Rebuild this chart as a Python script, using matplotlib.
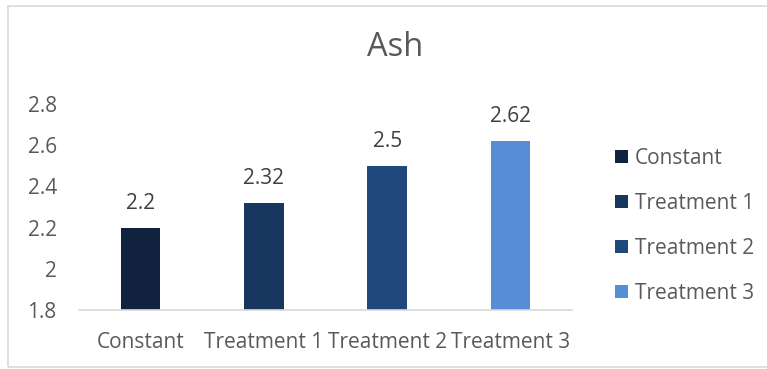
import matplotlib
matplotlib.use("Agg")
import matplotlib.pyplot as plt
from matplotlib.patches import Rectangle

categories = ["Constant", "Treatment 1", "Treatment 2", "Treatment 3"]
values = [2.2, 2.32, 2.5, 2.62]
colors = ["#11223f", "#17375e", "#1f497d", "#558ed5"]
yticks = [1.8, 2.0, 2.2, 2.4, 2.6, 2.8]
ytick_labels = ["1.8", "2", "2.2", "2.4", "2.6", "2.8"]

W, H = 767, 369
plt.rcParams["font.family"] = ["Open Sans", "DejaVu Sans"]
text_color = "#595959"

fig = plt.figure(figsize=(W / 100, H / 100), dpi=100)
fig.patch.set_facecolor("white")

# chart-area frame
fig.add_artist(Rectangle((8 / W, 1 - 367 / H), (W + 5 - 8) / W, (367 - 6) / H,
                         transform=fig.transFigure, fill=False,
                         edgecolor="#d9d9d9", linewidth=1.2))

ax = fig.add_axes([79 / W, (H - 310) / H, (572 - 79) / W, (310 - 104) / H])
x = range(len(categories))
bars = ax.bar(x, values, width=0.32, color=colors, label=categories, bottom=0)
ax.set_ylim(1.8, 2.8)
ax.set_xlim(-0.5, len(categories) - 0.5)
ax.set_yticks(yticks)
ax.set_yticklabels(ytick_labels)
ax.set_xticks(list(x))
ax.set_xticklabels(categories)
ax.tick_params(axis="both", length=0, labelsize=15, colors=text_color)
ax.tick_params(axis="y", pad=16)
ax.tick_params(axis="x", pad=16)
for s in ["left", "right", "top"]:
    ax.spines[s].set_visible(False)
ax.spines["bottom"].set_color("#d9d9d9")
ax.spines["bottom"].set_linewidth(1.2)

for b, v in zip(bars, values):
    ax.annotate(f"{v:g}", (b.get_x() + b.get_width() / 2, v),
                xytext=(0, 10), textcoords="offset points",
                ha="center", va="bottom", fontsize=15, color="#404040")

fig.text(395 / W, 1 - 48 / H, "Ash", ha="center", va="center",
         fontsize=23.5, color=text_color)

leg = fig.legend(handles=bars, labels=categories, loc="center left",
                 bbox_to_anchor=(596 / W, 1 - 226 / H), frameon=False,
                 fontsize=15, handlelength=0.62, handleheight=0.62,
                 handletextpad=0.35, labelspacing=1.15, labelcolor=text_color)

fig.savefig("out.png", dpi=100)
